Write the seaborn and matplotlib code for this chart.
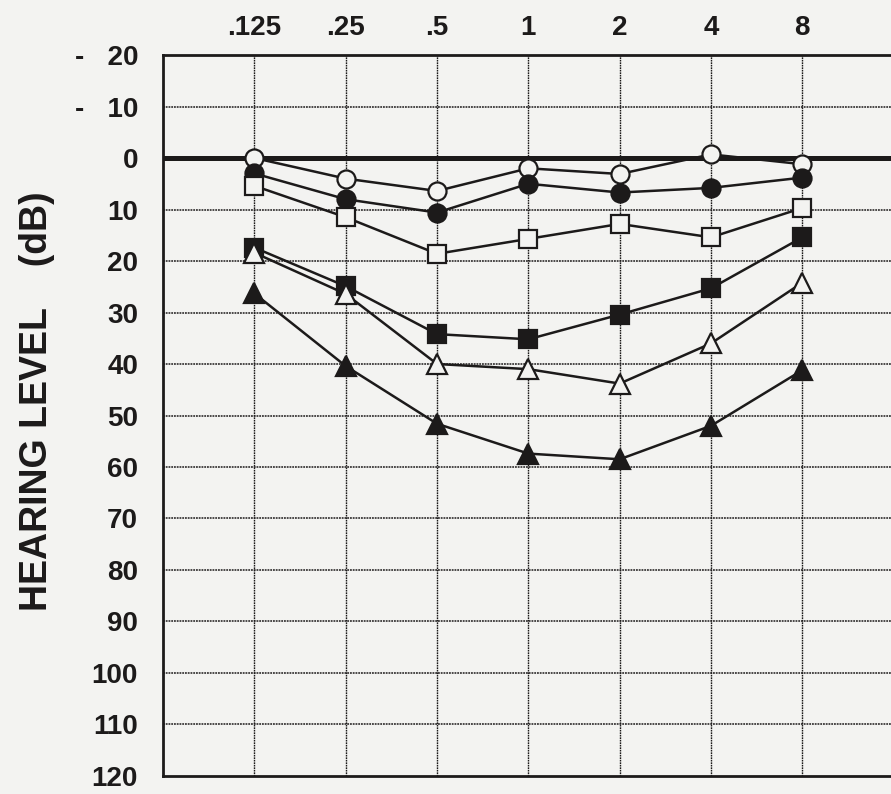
import pandas as pd
import matplotlib
matplotlib.use('Agg')
import matplotlib.pyplot as plt
import seaborn as sb

freqs = ['.125', '.25', '.5', '1', '2', '4', '8']
db_ticks = list(range(-20, 121, 10))
db_labels = ['-   20', '-   10'] + [str(v) for v in range(0, 121, 10)]

open_circle = [0, 4, 6.4, 2, 3.1, -0.7, 1.2]
filled_circle = [3, 8, 10.6, 5, 6.7, 5.8, 3.8]
open_square = [5.4, 11.5, 18.6, 15.7, 12.8, 15.4, 9.7]
filled_square = [17.4, 24.9, 34.2, 35.2, 30.4, 25.3, 15.4]
open_triangle = [18.4, 26.4, 40, 41, 43.8, 36, 24.2]
filled_triangle = [26.3, 40.4, 51.6, 57.4, 58.5, 52, 41.2]

ink = '#1c1a1a'
paper = '#f3f3f1'

series = [
    (open_circle, 'o', paper),
    (filled_circle, 'o', ink),
    (open_square, 's', paper),
    (filled_square, 's', ink),
    (open_triangle, '^', paper),
    (filled_triangle, '^', ink),
]

sb.set_style('white')
plt.rcParams['font.family'] = ['Liberation Sans', 'DejaVu Sans']

fig = plt.figure(figsize=(8.91, 7.94), dpi=100, facecolor=paper)
ax = fig.add_axes([0.183, 0.0227, 0.82, 0.908])
ax.set_facecolor(paper)

pos = list(range(len(freqs)))
for i, (vals, mk, face) in enumerate(series):
    df = pd.DataFrame({'x': pos, 'y': vals})
    sb.lineplot(data=df, x='x', y='y', ax=ax, color=ink, lw=1.8,
                marker=mk, ms=13 if mk != '^' else 14, mfc=face, mec=ink,
                mew=1.6, zorder=5 + i)

ax.axhline(0, color=ink, lw=3.6, zorder=4)

ax.set_xlim(-1, 7)
ax.set_ylim(120, -20)
ax.set_xticks(pos)
ax.set_xticklabels(freqs)
ax.set_yticks(db_ticks)
ax.set_yticklabels(db_labels)
ax.xaxis.tick_top()
ax.tick_params(axis='x', length=0, pad=10, labelsize=20, colors=ink)
ax.tick_params(axis='y', length=0, pad=18, labelsize=20, colors=ink)
for lab in ax.get_xticklabels() + ax.get_yticklabels():
    lab.set_fontweight('bold')

for v in db_ticks[1:-1]:
    ax.axhline(v, color=ink, lw=1.1, ls=(0, (1.2, 0.6)), zorder=1)
for p in pos:
    ax.axvline(p, color=ink, lw=1.0, ls=(0, (1.2, 0.6)), zorder=1)

ax.set_xlabel('')
ax.set_ylabel('HEARING LEVEL    (dB)', fontsize=27, fontweight='bold',
              color=ink)
# label centre sits at x~35px, y~398px in the figure
ax.yaxis.set_label_coords(-0.148, 0.52)

for side in ['left', 'top', 'bottom']:
    ax.spines[side].set_color(ink)
    ax.spines[side].set_linewidth(2)
ax.spines['right'].set_visible(False)

fig.savefig('out.png', dpi=100, facecolor=paper)
